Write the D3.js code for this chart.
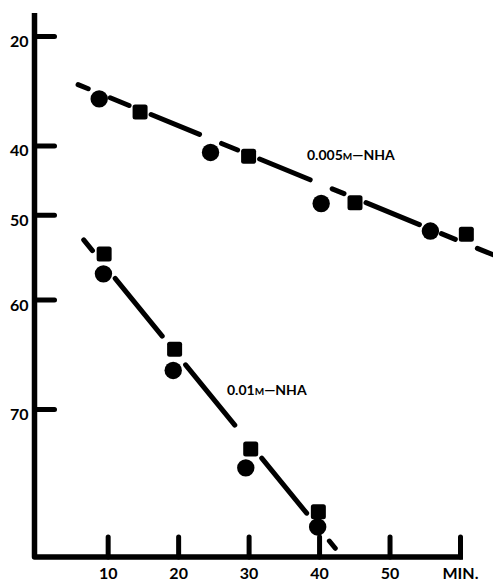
<!DOCTYPE html>
<html>
	<head>
	<script type="text/javascript" src="https://d3js.org/d3.v7.min.js"></script>
	<style>
	body { margin: 0; background: #fff; }
	svg text { font-family: Lato, "Open Sans", sans-serif; fill: #000; }
	</style>
	</head>
	<body>
	<script>
		// minutes and % values (y scale is log of 100 - value)
		var upperCircleT = [8.8, 24.6, 40.3, 55.8];
		var upperCircleV = [32.2, 41.1, 48.5, 52.1];
		var upperSquareT = [14.6, 30.0, 45.1, 60.9];
		var upperSquareV = [34.5, 41.7, 48.4, 52.5];
		var upperLineT = [5.8, 64.7];
		var upperLineV = [29.6, 55.0];

		var lowerCircleT = [9.4, 19.3, 29.6, 39.8];
		var lowerCircleV = [57.2, 66.8, 74.3, 78.0];
		var lowerSquareT = [9.5, 19.5, 30.3, 39.9];
		var lowerSquareV = [54.9, 64.9, 73.0, 77.1];
		var lowerLineT = [6.6, 42.3];
		var lowerLineV = [53.2, 79.2];

		var xTicks = [10, 20, 30, 40, 50, 60];
		var xTickLabels = ["10", "20", "30", "40", "50", "MIN."];
		var yTicks = [20, 40, 50, 60, 70];

		var width = 493, height = 582;
		var axisX = 34.5, axisY = 557;

		var svg = d3.select("body").append("svg")
					.attr("width", width)
					.attr("height", height);

		var x = d3.scaleLinear().domain([0, 60]).range([37.2, 460]);
		// log scale on the remaining part (100 - value)
		var yRest = d3.scaleLog().domain([80, 30]).range([36, 409]);
		function y(v){ return yRest(100 - v); }

		// axis lines
		svg.append("path")
			.attr("d", "M" + axisX + " 13 L" + axisX + " " + axisY + " L463 " + axisY)
			.attr("fill", "none")
			.attr("stroke", "#000")
			.attr("stroke-width", 5.5)
			.attr("stroke-linejoin", "round");

		var yAxis = d3.axisLeft(yRest)
					.tickValues(yTicks.map(function(v){ return 100 - v; }))
					.tickFormat(function(d){ return Math.round(100 - d); })
					.tickSizeInner(-20)
					.tickSizeOuter(0)
					.tickPadding(6);

		var gy = svg.append("g").attr("transform", "translate(" + axisX + ",0)").call(yAxis);
		gy.select(".domain").remove();
		gy.selectAll("line").attr("stroke", "#000").attr("stroke-width", 5).attr("stroke-linecap", "round");
		gy.selectAll("text")
			.attr("dy", "0.65em")
			.attr("font-size", 16)
			.attr("font-weight", "bold")
			.attr("fill", "#000");

		var xAxis = d3.axisBottom(x)
					.tickValues(xTicks)
					.tickFormat(function(d, i){ return xTickLabels[i]; })
					.tickSizeInner(-20)
					.tickSizeOuter(0)
					.tickPadding(11);

		var gx = svg.append("g").attr("transform", "translate(0," + axisY + ")").call(xAxis);
		gx.select(".domain").remove();
		gx.selectAll("line").attr("stroke", "#000").attr("stroke-width", 5).attr("stroke-linecap", "round");
		gx.selectAll("text")
			.attr("font-size", 16)
			.attr("font-weight", "bold")
			.attr("fill", "#000");

		// fitted line, broken where it runs past the markers
		function brokenLine(lineT, lineV, markT, gap){
			var x0 = x(lineT[0]), y0 = y(lineV[0]);
			var x1 = x(lineT[1]), y1 = y(lineV[1]);
			var slope = (y1 - y0) / (x1 - x0);
			var cuts = markT.map(function(t){ return [x(t) - gap, x(t) + gap]; })
							.sort(function(a, b){ return a[0] - b[0]; });
			var segs = [], start = x0;
			cuts.forEach(function(c){
				if (c[0] > start) segs.push([start, Math.min(c[0], x1)]);
				start = Math.max(start, c[1]);
			});
			if (start < x1) segs.push([start, x1]);
			var d = "";
			segs.forEach(function(s){
				if (s[1] <= s[0]) return;
				d += "M" + s[0] + " " + (y0 + slope * (s[0] - x0)) + " L" + s[1] + " " + (y0 + slope * (s[1] - x0)) + " ";
			});
			return d;
		}

		function drawSeries(lineT, lineV, circT, circV, sqT, sqV){
			svg.append("path")
				.attr("d", brokenLine(lineT, lineV, circT.concat(sqT), 11))
				.attr("fill", "none")
				.attr("stroke", "#000")
				.attr("stroke-width", 5)
				.attr("stroke-linecap", "round");

			svg.append("g").selectAll("circle")
				.data(circT)
				.enter()
				.append("circle")
				.attr("cx", function(d){ return x(d); })
				.attr("cy", function(d, i){ return y(circV[i]); })
				.attr("r", 8.7)
				.attr("fill", "#000");

			svg.append("g").selectAll("rect")
				.data(sqT)
				.enter()
				.append("rect")
				.attr("x", function(d){ return x(d) - 7.5; })
				.attr("y", function(d, i){ return y(sqV[i]) - 7.5; })
				.attr("width", 15)
				.attr("height", 15)
				.attr("rx", 2.5)
				.attr("fill", "#000");
		}

		drawSeries(upperLineT, upperLineV, upperCircleT, upperCircleV, upperSquareT, upperSquareV);
		drawSeries(lowerLineT, lowerLineV, lowerCircleT, lowerCircleV, lowerSquareT, lowerSquareV);

		function label(px, py, conc){
			var t = svg.append("text")
				.attr("x", px)
				.attr("y", py)
				.attr("font-size", 14)
				.attr("font-weight", "bold");
			t.append("tspan").text(conc);
			t.append("tspan").attr("font-size", 10).text("M");
			t.append("tspan").text("\u2014NHA");
		}
		label(307, 160, "0.005");
		label(227, 395, "0.01");
	</script>
	</body>
</html>
